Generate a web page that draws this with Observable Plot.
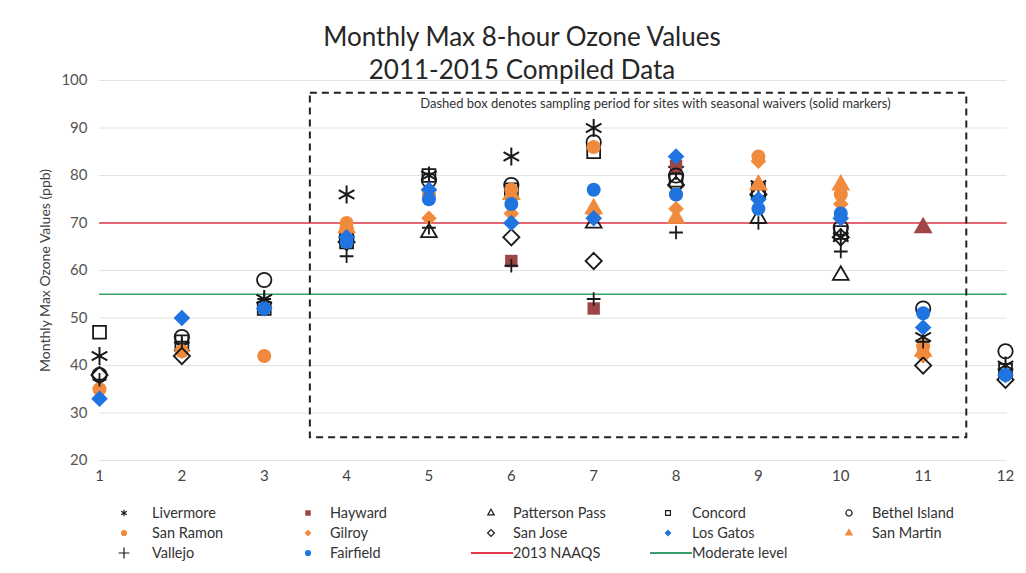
<!DOCTYPE html>
<html><head><meta charset="utf-8">
<script src="https://cdn.jsdelivr.net/npm/d3@7"></script>
<script src="https://cdn.jsdelivr.net/npm/@observablehq/plot@0.6"></script>
<style>
body{margin:0;background:#fff;font-family:Lato,"Open Sans",sans-serif;}
#wrap{position:relative;width:1026px;height:573px;overflow:hidden;background:#fff}
#chart{position:absolute;left:0;top:0}
#title{position:absolute;left:9px;top:20px;width:1026px;text-align:center;font-size:26px;line-height:33px;color:#262626}
.lg{position:absolute;font-size:14.5px;color:#333;white-space:nowrap;line-height:18px}
.lgm{position:absolute}
</style></head>
<body><div id="wrap"><div id="chart"></div><div id="title">Monthly Max 8-hour Ozone Values<br>2011-2015 Compiled Data</div></div>
<script>
// ---- data ----
const months = [1,2,3,4,5,6,7,8,9,10,11,12];
const yTicks = [20,30,40,50,60,70,80,90,100];
const livermore    = [42,44,54,76,80,84,90,81,78,67,46,40];
const hayward      = [null,null,null,null,null,62,52,82,null,null,69,null];
const pattersonPass= [null,null,null,null,68,null,70,null,71,59,null,null];
const concord      = [47,45,52,66,80,77,85,79,77,68,null,39];
const bethelIsland = [38,46,58,67,79,78,87,80,76,69,52,43];
const sanRamon     = [35,43,42,70,76,77,86,76,84,76,44,null];
const gilroy       = [null,43,null,69,71,72,72,73,83,74,42,null];
const sanJose      = [38,42,null,66,null,67,62,78,76,67,40,37];
const losGatos     = [33,50,52,67,77,70,71,84,75,71,48,38];
const sanMartin    = [null,null,null,69,null,76,73,71,78,78,43,null];
const vallejo      = [37,45,54,63,69,61,54,68,70,64,45,39];
const fairfield    = [null,null,52,66,75,74,77,76,73,72,51,38];
const naaqs2013 = [70];
const moderateLevel = [55];
const waiverBox = [{x1:3.56, x2:11.53, y1:24.8, y2:97.3}];
const boxNote = [{x:7.75, y:95, text:"Dashed box denotes sampling period for sites with seasonal waivers (solid markers)"}];
const yLabel = "Monthly Max Ozone Values (ppb)";

// ---- styles ----
const ORANGE="#f08a3c", BLUE="#1f74e0", DRED="#9e4646", BLACK="#1a1a1a", RED="#e0384a", GREEN="#3a9e6c";
const series = [
  {name:"Livermore", values:livermore, symbol:"asterisk", fill:"none", stroke:BLACK, r:8.5, sw:2},
  {name:"Hayward", values:hayward, symbol:"square", fill:DRED, stroke:"none", r:7},
  {name:"Patterson Pass", values:pattersonPass, symbol:"triangle2", fill:"none", stroke:BLACK, r:7.5},
  {name:"Concord", values:concord, symbol:"square2", fill:"none", stroke:BLACK, r:8.2},
  {name:"Bethel Island", values:bethelIsland, symbol:"circle", fill:"none", stroke:BLACK, r:7.2},
  {name:"San Ramon", values:sanRamon, symbol:"circle", fill:ORANGE, stroke:"none", r:7},
  {name:"Gilroy", values:gilroy, symbol:"diamond2", fill:ORANGE, stroke:"none", r:7},
  {name:"San Jose", values:sanJose, symbol:"diamond2", fill:"none", stroke:BLACK, r:7.3},
  {name:"San Martin", values:sanMartin, symbol:"triangle", fill:ORANGE, stroke:"none", r:7},
  {name:"Los Gatos", values:losGatos, symbol:"diamond2", fill:BLUE, stroke:"none", r:7.5},
  {name:"Vallejo", values:vallejo, symbol:"plus", fill:"none", stroke:BLACK, r:4.5},
  {name:"Fairfield", values:fairfield, symbol:"circle", fill:BLUE, stroke:"none", r:7}
];

const dotMarks = [];
for (const s of series) {
  const rows = months.map((m,i)=>({month:m, value:s.values[i], site:s.name})).filter(d=>d.value!=null);
  if (s.name === "Hayward") {
    dotMarks.push(Plot.dot(rows.filter(d=>d.month!==11), {x:"month", y:"value", symbol:"square", fill:DRED, r:7}));
    dotMarks.push(Plot.dot(rows.filter(d=>d.month===11), {x:"month", y:"value", symbol:"triangle", fill:DRED, r:7}));
  } else {
    dotMarks.push(Plot.dot(rows, {x:"month", y:"value", symbol:s.symbol, fill:s.fill, stroke:s.stroke, strokeWidth:s.sw || 1.8, r:s.r}));
  }
}

const chart = Plot.plot({
  width:1026, height:500,
  marginTop:80, marginBottom:40, marginLeft:99, marginRight:21,
  style:{fontFamily:"Lato, 'Open Sans', sans-serif", background:"transparent"},
  x:{domain:[1,12]},
  y:{domain:[20,100]},
  marks:[
    Plot.ruleY(yTicks, {stroke:"#e2e2e2", strokeWidth:1, x1:1, x2:12.02}),
    Plot.axisY({ticks:yTicks, tickSize:0, tickPadding:12, fontSize:15, color:"#555", label:null}),
    Plot.axisX({ticks:months, tickSize:0, tickPadding:10, fontSize:15, color:"#444", tickFormat:d=>String(d), label:null}),
    Plot.text([yLabel], {frameAnchor:"left", rotate:-90, dx:-54, textAnchor:"middle", fontSize:14, fill:"#404040"}),
    Plot.ruleY(naaqs2013, {stroke:RED, strokeWidth:1.6, x1:1, x2:12.02}),
    Plot.ruleY(moderateLevel, {stroke:GREEN, strokeWidth:1.6, x1:1, x2:12.02}),
    Plot.rect(waiverBox, {x1:"x1", x2:"x2", y1:"y1", y2:"y2", fill:"none", stroke:"#222", strokeWidth:2, strokeDasharray:"7,5"}),
    Plot.text(boxNote, {x:"x", y:"y", text:"text", fontSize:13, fill:"#333"}),
    ...dotMarks
  ]
});
document.getElementById("chart").appendChild(chart);

// ---- legend ----
const legendItems = [
  {name:"Livermore", col:0, row:0}, {name:"Hayward", col:1, row:0}, {name:"Patterson Pass", col:2, row:0}, {name:"Concord", col:3, row:0}, {name:"Bethel Island", col:4, row:0},
  {name:"San Ramon", col:0, row:1}, {name:"Gilroy", col:1, row:1}, {name:"San Jose", col:2, row:1}, {name:"Los Gatos", col:3, row:1}, {name:"San Martin", col:4, row:1},
  {name:"Vallejo", col:0, row:2}, {name:"Fairfield", col:1, row:2}, {name:"2013 NAAQS", col:2, row:2, line:RED}, {name:"Moderate level", col:3, row:2, line:GREEN}
];
const colMarker = [124, 308, 491, 668, 849];
const colText = [152, 330, 513, 692, 872];
const rowY = [513, 533, 553];
const symMap = {asterisk:d3.symbolAsterisk, square:d3.symbolSquare, triangle2:d3.symbolTriangle2, square2:d3.symbolSquare2, circle:d3.symbolCircle, diamond2:d3.symbolDiamond2, triangle:d3.symbolTriangle, plus:d3.symbolPlus};
const wrap = document.getElementById("wrap");
for (const it of legendItems) {
  const y = rowY[it.row];
  const svg = d3.create("svg").attr("class","lgm");
  if (it.line) {
    svg.attr("width",42).attr("height",6).style("left",(colText[it.col]-42)+"px").style("top",(y-3)+"px");
    svg.append("line").attr("x1",0).attr("x2",42).attr("y1",3).attr("y2",3).attr("stroke",it.line).attr("stroke-width",2);
  } else {
    const s = series.find(d=>d.name===it.name);
    svg.attr("width",14).attr("height",14).style("left",(colMarker[it.col]-7)+"px").style("top",(y-7)+"px");
    const size = s.symbol==="plus" ? 40 : 30;
    svg.append("path").attr("transform","translate(7,7)").attr("d", d3.symbol(symMap[s.symbol], size)())
      .attr("fill", s.fill).attr("stroke", s.stroke).attr("stroke-width",1.2);
  }
  wrap.appendChild(svg.node());
  const t = document.createElement("div");
  t.className="lg"; t.textContent=it.name;
  t.style.left = colText[it.col]+"px"; t.style.top=(y-9)+"px";
  wrap.appendChild(t);
}
</script>
</body></html>
